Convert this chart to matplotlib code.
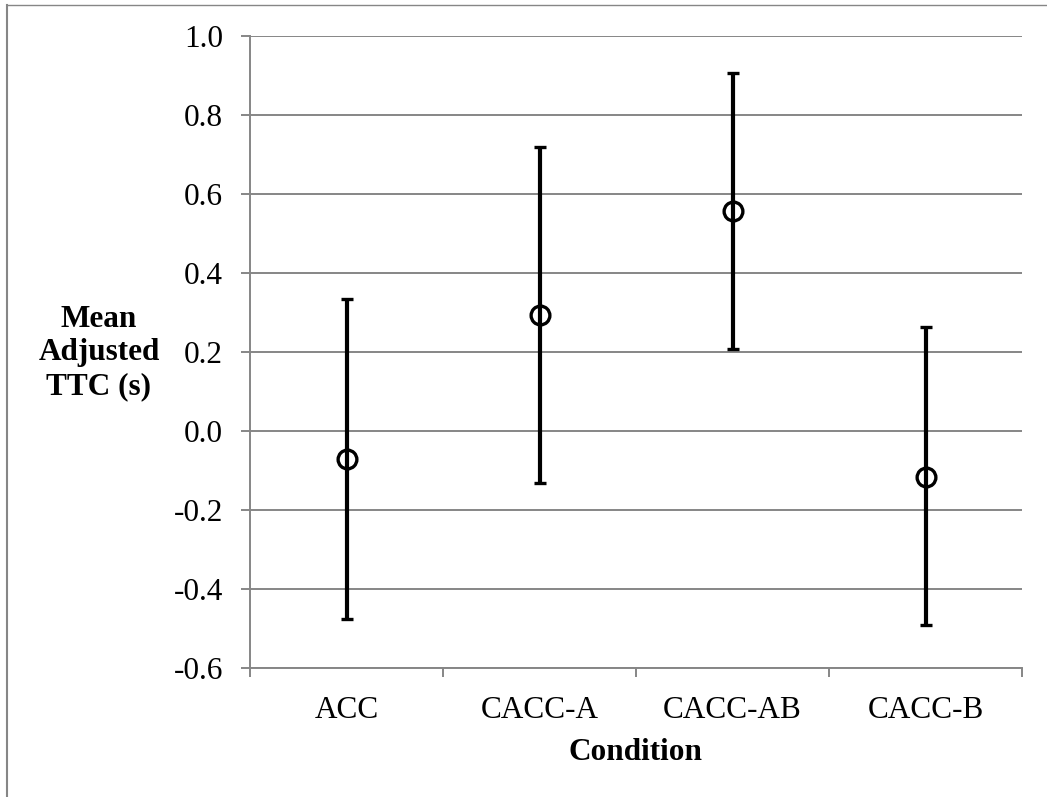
import matplotlib
matplotlib.use("Agg")
import matplotlib.pyplot as plt
from matplotlib.lines import Line2D
import numpy as np

conditions = ["ACC", "CACC-A", "CACC-AB", "CACC-B"]
means = [-0.072, 0.293, 0.557, -0.116]
upper = [0.334, 0.720, 0.907, 0.263]
lower = [-0.476, -0.132, 0.208, -0.491]

yticks = [-0.6, -0.4, -0.2, 0.0, 0.2, 0.4, 0.6, 0.8, 1.0]

plt.rcParams['font.family'] = ['Liberation Serif', 'DejaVu Serif']
plt.rcParams['font.size'] = 22.5

W, H = 1047, 797
fig = plt.figure(figsize=(W / 100, H / 100), dpi=100)
ax = fig.add_axes([250 / W, 1 - 668 / H, 772 / W, 632 / H])

gray = '#868686'
x = np.arange(len(conditions))
means = np.array(means)
err = [means - np.array(lower), np.array(upper) - means]

ax.errorbar(x, means, yerr=err, fmt='o', color='black', ecolor='black',
            elinewidth=3, capsize=4.3, capthick=2.5,
            markersize=13.5, markerfacecolor='none', markeredgewidth=2.4,
            markeredgecolor='black', zorder=5)

ax.set_xlim(-0.5, len(conditions) - 0.5)
ax.set_ylim(-0.6, 1.0)
ax.set_yticks(yticks)
ax.set_yticklabels([f"{v:.1f}" for v in yticks])

# category ticks sit between the groups, labels at the centres
ax.set_xticks(np.arange(-0.5, len(conditions)), minor=False)
ax.set_xticklabels([])
ax.set_xticks(x, minor=True)
ax.set_xticklabels(conditions, minor=True)
ax.tick_params(axis='x', which='minor', length=0, pad=20.5)
ax.tick_params(axis='x', which='major', length=6.5, width=1.4, color=gray)
ax.tick_params(axis='y', length=6.5, width=1.4, color=gray, pad=13)

ax.yaxis.grid(True, color=gray, linewidth=1.4)
ax.set_axisbelow(True)
for s in ['top', 'right']:
    ax.spines[s].set_visible(False)
for s in ['left', 'bottom']:
    ax.spines[s].set_color(gray)
    ax.spines[s].set_linewidth(1.4)

ax.set_xlabel("Condition", fontweight='bold', labelpad=9)
fig.text(99 / W, 1 - 353 / H, "Mean\nAdjusted\nTTC (s)", ha='center', va='center',
         multialignment='center', fontweight='bold', linespacing=1.22)

# outer chart border (only top and left edges visible)
fig.add_artist(Line2D([7 / W, 7 / W], [0, 1 - 5 / H], transform=fig.transFigure,
                      color=gray, linewidth=1.5))
fig.add_artist(Line2D([7 / W, 1], [1 - 5 / H, 1 - 5 / H], transform=fig.transFigure,
                      color=gray, linewidth=1.0))

fig.savefig("out.png", dpi=100)
